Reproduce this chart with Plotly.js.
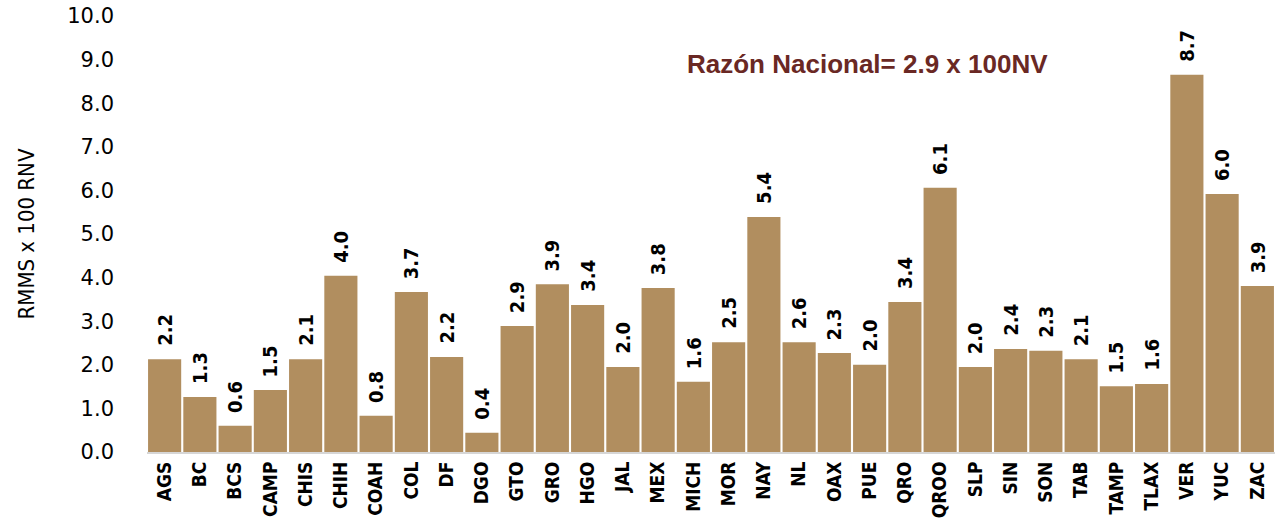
<!DOCTYPE html>
<html>
<head>
<meta charset="utf-8">
<script src="https://cdn.plot.ly/plotly-3.0.1.min.js"></script>
<style>html,body{margin:0;padding:0;background:#fff;}#chart{width:1278px;height:520px;}</style>
</head>
<body>
<div id="chart"></div>
<script>
const categories = ["AGS","BC","BCS","CAMP","CHIS","CHIH","COAH","COL","DF","DGO","GTO","GRO","HGO","JAL","MEX","MICH","MOR","NAY","NL","OAX","PUE","QRO","QROO","SLP","SIN","SON","TAB","TAMP","TLAX","VER","YUC","ZAC"];
const values = [2.13,1.26,0.60,1.42,2.13,4.04,0.83,3.67,2.18,0.44,2.89,3.85,3.37,1.95,3.76,1.61,2.52,5.39,2.52,2.27,2.00,3.44,6.06,1.95,2.36,2.32,2.13,1.51,1.56,8.65,5.92,3.81];
const valueLabels = ["2.2","1.3","0.6","1.5","2.1","4.0","0.8","3.7","2.2","0.4","2.9","3.9","3.4","2.0","3.8","1.6","2.5","5.4","2.6","2.3","2.0","3.4","6.1","2.0","2.4","2.3","2.1","1.5","1.6","8.7","6.0","3.9"];
const yTicks = [0,1,2,3,4,5,6,7,8,9,10];
const yTickLabels = ["0.0","1.0","2.0","3.0","4.0","5.0","6.0","7.0","8.0","9.0","10.0"];
const nationalText = "Razón Nacional= 2.9 x 100NV";

const narrow = "Liberation Sans Narrow, DejaVu Sans Condensed, Arial Narrow, sans-serif";

const trace = {
  type: "bar",
  x: categories,
  y: values,
  marker: {color: "#b18e5f", line: {width: 0}},
  hoverinfo: "x+y"
};

const valueAnnotations = categories.map((c, i) => ({
  x: c,
  y: values[i],
  xref: "x", yref: "y",
  text: valueLabels[i],
  textangle: -90,
  xanchor: "center",
  yanchor: "bottom",
  yshift: 11,
  showarrow: false,
  font: {family: narrow, size: 20, color: "#000", weight: "bold"}
}));

const layout = {
  width: 1278,
  height: 520,
  margin: {l: 147, r: 3, t: 16, b: 68},
  paper_bgcolor: "#fff",
  plot_bgcolor: "#fff",
  showlegend: false,
  bargap: 0.06,
  xaxis: {
    type: "category",
    tickangle: -90,
    showgrid: false,
    showline: true,
    linecolor: "#d6d6d6",
    linewidth: 2,
    ticks: "",
    tickfont: {family: narrow, size: 19, color: "#000", weight: "bold"},
    zeroline: false
  },
  yaxis: {
    range: [0, 10],
    tickvals: yTicks,
    ticktext: yTickLabels,
    showgrid: false,
    showline: false,
    zeroline: false,
    ticks: "",
    ticklen: 0,
    ticklabelstandoff: 32,
    tickfont: {family: "DejaVu Sans, Verdana, sans-serif", size: 21, color: "#000"},
    automargin: false,
    title: {text: "RMMS x 100 RNV", font: {family: "DejaVu Sans Condensed, sans-serif", size: 22, color: "#000"}, standoff: 26}
  },
  annotations: valueAnnotations.concat([{
    text: nationalText,
    xref: "paper", yref: "paper",
    x: 0.639, y: 0.89,
    xanchor: "center", yanchor: "middle",
    showarrow: false,
    font: {family: "Liberation Sans, Arial, sans-serif", size: 26, color: "#6a2824", weight: "bold"}
  }])
};

Plotly.newPlot("chart", [trace], layout, {displayModeBar: false, staticPlot: true});
</script>
</body>
</html>
